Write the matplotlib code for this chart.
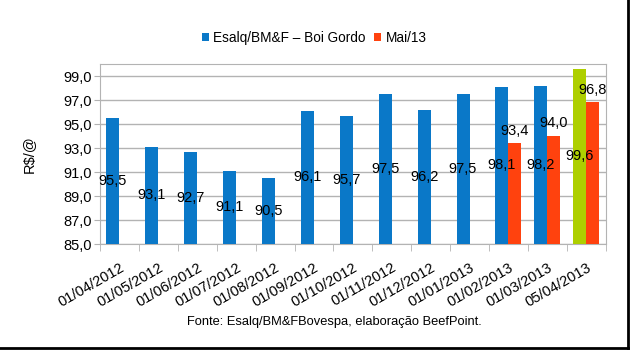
import numpy as np
import matplotlib
matplotlib.use('Agg')
import matplotlib.pyplot as plt

plt.rcParams['font.family'] = ['Liberation Sans', 'DejaVu Sans']

# Dados
datas = ['01/04/2012', '01/05/2012', '01/06/2012', '01/07/2012', '01/08/2012',
         '01/09/2012', '01/10/2012', '01/11/2012', '01/12/2012', '01/01/2013',
         '01/02/2013', '01/03/2013', '05/04/2013']
boi_gordo = [95.5, 93.1, 92.7, 91.1, 90.5, 96.1, 95.7, 97.5, 96.2, 97.5, 98.1, 98.2, 99.6]
mai13 = [None] * 10 + [93.4, 94.0, 96.8]

azul = '#0a78c8'
vermelho = '#ff420e'
verde = '#aecf00'

fig = plt.figure(figsize=(6.31, 3.51), dpi=100)
ax = fig.add_axes([100 / 631, 1 - 244 / 351, 505.7 / 631, 180 / 351])

x = np.arange(len(datas))
w = 0.334
base = 85.0

cores = [azul] * (len(datas) - 1) + [verde]
ax.bar(x - w / 2, np.array(boi_gordo) - base, w, bottom=base, color=cores,
       label='Esalq/BM&F – Boi Gordo', zorder=3)

xr = [i for i, v in enumerate(mai13) if v is not None]
vr = [v for v in mai13 if v is not None]
ax.bar(np.array(xr) + w / 2, np.array(vr) - base, w, bottom=base, color=vermelho,
       label='Mai/13', zorder=3)

def fmt(v):
    return f'{v:.1f}'.replace('.', ',')

# rótulos: azul/verde no meio da barra, vermelho acima
for i, v in enumerate(boi_gordo):
    ax.text(i - w / 2, (base + v) / 2, fmt(v), ha='center', va='center',
            fontsize=10.5, zorder=4)
for i, v in zip(xr, vr):
    ax.annotate(fmt(v), (i + w / 2, v), xytext=(0, 4), textcoords='offset points',
                ha='center', va='bottom', fontsize=10.5, zorder=4)

ax.set_ylim(85, 100)
ax.set_xlim(-0.5, len(datas) - 0.5)
ax.set_yticks(np.arange(85, 100, 2))
ax.set_yticklabels([fmt(t) for t in np.arange(85, 100, 2)], fontsize=10.5)
ax.yaxis.grid(True, color='#b3b3b3', linewidth=1, zorder=0)
ax.set_axisbelow(True)
ax.tick_params(axis='y', length=4, color='#b3b3b3', pad=2)

ax.set_xticks(x)
ax.set_xticklabels(datas, rotation=30, ha='right', rotation_mode='anchor', fontsize=10.5)
ax.tick_params(axis='x', which='major', length=0, pad=12)
ax.set_xticks(np.arange(-0.5, len(datas), 1), minor=True)
ax.tick_params(axis='x', which='minor', length=5, color='#b3b3b3')

for s in ax.spines.values():
    s.set_color('#b3b3b3')

ax.set_ylabel('R$/@', fontsize=10.5, labelpad=20)

fig.legend(loc='center', bbox_to_anchor=(314 / 631, 1 - 38 / 351), ncol=2,
           frameon=False, fontsize=9.8, handlelength=0.55, handleheight=0.55,
           handletextpad=0.3, columnspacing=0.6)

fig.text(334 / 631, 1 - 322 / 351, 'Fonte: Esalq/BM&FBovespa, elaboração BeefPoint.',
         ha='center', va='center', fontsize=9.3)

# moldura externa (direita e embaixo)
fig.add_artist(plt.Line2D([628 / 631, 628 / 631], [3 / 351, 1], color='black', linewidth=2))
fig.add_artist(plt.Line2D([0, 628 / 631], [3 / 351, 3 / 351], color='black', linewidth=2))

fig.savefig('out.png', dpi=100)
